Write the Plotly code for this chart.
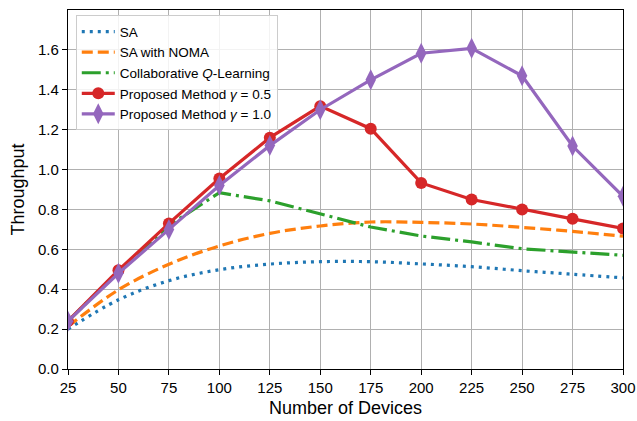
import plotly.graph_objects as go

devices = [25, 50, 75, 100, 125, 150, 175, 200, 225, 250, 275, 300]
sa = [0.20, 0.347, 0.443, 0.498, 0.526, 0.538, 0.538, 0.527, 0.513, 0.493, 0.475, 0.457]
sa_noma = [0.213, 0.397, 0.525, 0.617, 0.68, 0.717, 0.737, 0.735, 0.727, 0.71, 0.69, 0.666]
cql = [0.24, 0.49, 0.72, 0.884, 0.843, 0.778, 0.712, 0.667, 0.637, 0.603, 0.588, 0.57]
prop05 = [0.24, 0.495, 0.73, 0.955, 1.16, 1.318, 1.205, 0.933, 0.85, 0.80, 0.753, 0.705]
prop10 = [0.24, 0.48, 0.70, 0.92, 1.12, 1.30, 1.45, 1.583, 1.608, 1.47, 1.118, 0.866]

fig = go.Figure()
fig.add_trace(go.Scatter(x=devices, y=sa, mode="lines", name="SA",
                         line=dict(color="#1f77b4", width=3.2, dash="3px,5px", shape="spline")))
fig.add_trace(go.Scatter(x=devices, y=sa_noma, mode="lines", name="SA with NOMA",
                         line=dict(color="#ff7f0e", width=3.2, dash="11px,5px", shape="spline")))
fig.add_trace(go.Scatter(x=devices, y=cql, mode="lines", name="Collaborative <i>Q</i>-Learning",
                         line=dict(color="#2ca02c", width=3.2, dash="19px,5px,3px,5px")))
fig.add_trace(go.Scatter(x=devices, y=prop05, mode="lines+markers", name="Proposed Method <i>γ</i> = 0.5",
                         line=dict(color="#d62728", width=3.2),
                         marker=dict(symbol="circle", size=12, color="#d62728")))
fig.add_trace(go.Scatter(x=devices, y=prop10, mode="lines+markers", name="Proposed Method <i>γ</i> = 1.0",
                         line=dict(color="#9467bd", width=3.2),
                         marker=dict(symbol="diamond-tall", size=15, color="#9467bd")))

axis_common = dict(showline=True, linecolor="black", linewidth=1.3, mirror=True,
                   ticks="outside", ticklen=5, tickcolor="black", tickwidth=1.2,
                   showgrid=True, gridcolor="#b0b0b0", gridwidth=1.3, zeroline=False,
                   automargin=False,
                   tickfont=dict(size=15, color="black"))

fig.update_layout(
    width=637, height=421,
    margin=dict(l=68, r=14, t=10, b=52),
    paper_bgcolor="white", plot_bgcolor="white",
    font=dict(family="Liberation Sans, Arial, sans-serif", color="black"),
    xaxis=dict(range=[25, 300], tickvals=devices, title=dict(text="Number of Devices", font=dict(size=18), standoff=6), **axis_common),
    yaxis=dict(range=[0, 1.8], tickvals=[0, 0.2, 0.4, 0.6, 0.8, 1.0, 1.2, 1.4, 1.6], tickformat=".1f",
               title=dict(text="Throughput", font=dict(size=18), standoff=8), **axis_common),
    legend=dict(x=0.014, y=0.985, xanchor="left", yanchor="top", bgcolor="rgba(255,255,255,0.85)",
                bordercolor="#cccccc", borderwidth=1, font=dict(size=13.5), tracegroupgap=0,
                itemwidth=33),
    showlegend=True,
)

fig.write_html("out.html")
